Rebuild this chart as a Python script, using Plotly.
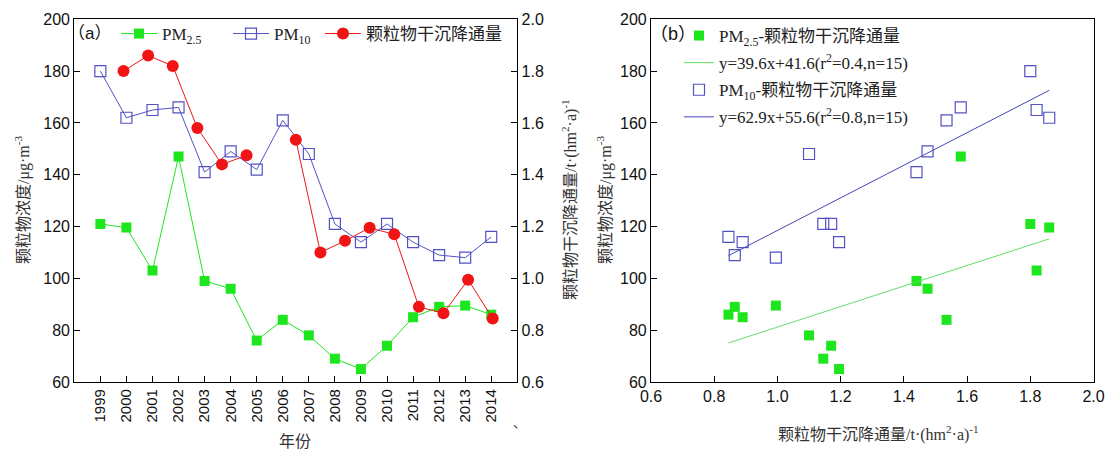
import plotly.graph_objects as go

# ---------------- data ----------------
years = [1999, 2000, 2001, 2002, 2003, 2004, 2005, 2006, 2007, 2008, 2009, 2010, 2011, 2012, 2013, 2014]
year_labels = [str(y) for y in years]
pm25 = [121, 119.6, 103, 147, 99, 96, 76, 84, 78, 69, 65, 74, 85, 89, 89.5, 86]
pm10 = [180, 162, 165, 166, 141, 149, 142, 161, 148, 121, 114, 121, 114, 109, 108, 116]
flux = [1.80, 1.86, 1.82, 1.58, 1.44, 1.475, None, 1.535, 1.10, 1.145, 1.195, 1.17, 0.89, 0.865, 0.995, 0.845]

fit25 = (39.6, 41.6)   # slope, intercept
fit10 = (62.9, 55.6)

# pairs for the scatter panel (years with a flux value)
sc_x = [f for f in flux if f is not None]
sc_25 = [p for p, f in zip(pm25, flux) if f is not None]
sc_10 = [p for p, f in zip(pm10, flux) if f is not None]
fx = [min(sc_x), max(sc_x)]

GREEN = "#1ee61e"
BLUE = "#5252c4"
RED = "#f01414"
SANS = "Liberation Sans, Arial, Noto Sans CJK SC, sans-serif"
SERIF = "Liberation Serif, Times New Roman, Noto Sans CJK SC, serif"

W, H = 1110, 450
def px(x):
    return x / W
def py(y):
    return 1 - y / H

fig = go.Figure()

# ---- panel (a) ----
fig.add_trace(go.Scatter(
    x=years, y=pm25, mode="lines+markers", name="PM<sub>2.5</sub>",
    line=dict(color=GREEN, width=1), marker=dict(symbol="square", size=10, color=GREEN),
    xaxis="x", yaxis="y", legend="legend", legendwidth=61))
fig.add_trace(go.Scatter(
    x=years, y=pm10, mode="lines+markers", name="PM<sub>10</sub>",
    line=dict(color=BLUE, width=1),
    marker=dict(symbol="square-open", size=11, color=BLUE, line=dict(width=1.2)),
    xaxis="x", yaxis="y", legend="legend", legendwidth=41))
fig.add_trace(go.Scatter(
    x=years, y=flux, mode="lines+markers", name="颗粒物干沉降通量",
    connectgaps=False,
    line=dict(color=RED, width=1), marker=dict(symbol="circle", size=12, color=RED),
    xaxis="x3", yaxis="y2", legend="legend"))

# ---- panel (b) ----
fig.add_trace(go.Scatter(
    x=sc_x, y=sc_25, mode="markers", name="PM<sub>2.5</sub>-颗粒物干沉降通量",
    marker=dict(symbol="square", size=10, color=GREEN),
    xaxis="x2", yaxis="y3", legend="legend2", legendgroup="a"))
fig.add_trace(go.Scatter(
    x=fx, y=[fit25[0] * v + fit25[1] for v in fx], mode="lines",
    name="y=39.6x+41.6(r<sup>2</sup>=0.4,n=15)",
    line=dict(color="#66dd66", width=1),
    xaxis="x2", yaxis="y3", legend="legend2", legendgroup="b"))
fig.add_trace(go.Scatter(
    x=sc_x, y=sc_10, mode="markers", name="PM<sub>10</sub>-颗粒物干沉降通量",
    marker=dict(symbol="square-open", size=11, color=BLUE, line=dict(width=1.2)),
    xaxis="x2", yaxis="y3", legend="legend2", legendgroup="c"))
fig.add_trace(go.Scatter(
    x=fx, y=[fit10[0] * v + fit10[1] for v in fx], mode="lines",
    name="y=62.9x+55.6(r<sup>2</sup>=0.8,n=15)",
    line=dict(color="#4646bb", width=1),
    xaxis="x2", yaxis="y3", legend="legend2", legendgroup="d"))

dom_y = [py(382), py(19.3)]
dom_xa = [px(74.3), px(517.3)]
dom_xb = [px(651), px(1093.5)]

axis_common = dict(showline=True, linecolor="black", linewidth=1.2, ticks="inside",
                   ticklen=6, tickwidth=1.2, tickcolor="black", showgrid=False,
                   zeroline=False, automargin=False,
                   tickfont=dict(family=SANS, size=16, color="#111"))

fig.update_layout(
    width=W, height=H, margin=dict(l=0, r=0, t=0, b=0, autoexpand=False),
    paper_bgcolor="white", plot_bgcolor="white",
    xaxis=dict(domain=dom_xa, anchor="y", range=[1998, 2015], tickvals=years,
               ticktext=year_labels, tickangle=-90, mirror=True,
               **{**axis_common, "tickfont": dict(family=SANS, size=15, color="#111")}),
    yaxis=dict(domain=dom_y, anchor="x", range=[60, 200], dtick=20, **axis_common),
    yaxis2=dict(anchor="x", overlaying="y", side="right", range=[0.6, 2.0], dtick=0.2,
                tickformat=".1f", **axis_common),
    xaxis3=dict(overlaying="x", anchor="y", range=[1997, 2015], visible=False),
    xaxis2=dict(domain=dom_xb, anchor="y3", range=[0.6, 2.0], dtick=0.2, tickformat=".1f",
                mirror=True, **axis_common),
    yaxis3=dict(domain=dom_y, anchor="x2", range=[60, 200], dtick=20, mirror=True,
                **axis_common),
    legend=dict(orientation="h", x=px(116), y=py(34), xanchor="left", yanchor="middle",
                bgcolor="rgba(0,0,0,0)", font=dict(family=SERIF, size=17, color="#222"),
                itemwidth=36, itemclick=False),
    legend2=dict(orientation="v", x=px(679), y=py(18), xanchor="left", yanchor="top",
                 bgcolor="rgba(0,0,0,0)", font=dict(family=SERIF, size=17, color="#222"),
                 tracegroupgap=2),
    showlegend=True,
)

ann = [
    dict(text="（a）", x=px(89), y=py(33), font=dict(family=SANS, size=17, color="#111")),
    dict(text="（b）", x=px(673), y=py(34), font=dict(family=SANS, size=18, color="#111")),
    dict(text="年份", x=px(295), y=py(441), font=dict(family=SERIF, size=16, color="#333")),
    dict(text="颗粒物浓度/μg·m<sup>-3</sup>", x=px(22), y=py(200), textangle=-90,
         font=dict(family=SERIF, size=16, color="#333")),
    dict(text="颗粒物干沉降通量/t·(hm<sup>2</sup>·a)<sup>-1</sup>", x=px(569), y=py(200),
         textangle=-90, font=dict(family=SERIF, size=16, color="#333")),
    dict(text="颗粒物浓度/μg·m<sup>-3</sup>", x=px(604), y=py(200), textangle=-90,
         font=dict(family=SERIF, size=16, color="#333")),
    dict(text="颗粒物干沉降通量/t·(hm<sup>2</sup>·a)<sup>-1</sup>", x=px(878), y=py(433),
         font=dict(family=SERIF, size=16, color="#333")),
    dict(text="、", x=px(519), y=py(422), font=dict(family=SERIF, size=13, color="#333")),
]
for a in ann:
    a.update(xref="paper", yref="paper", showarrow=False, xanchor="center", yanchor="middle")
fig.update_layout(annotations=ann)

fig.write_html("out.html", config={"displayModeBar": False},
               post_script="document.body.style.margin='0';document.body.style.padding='0';")
